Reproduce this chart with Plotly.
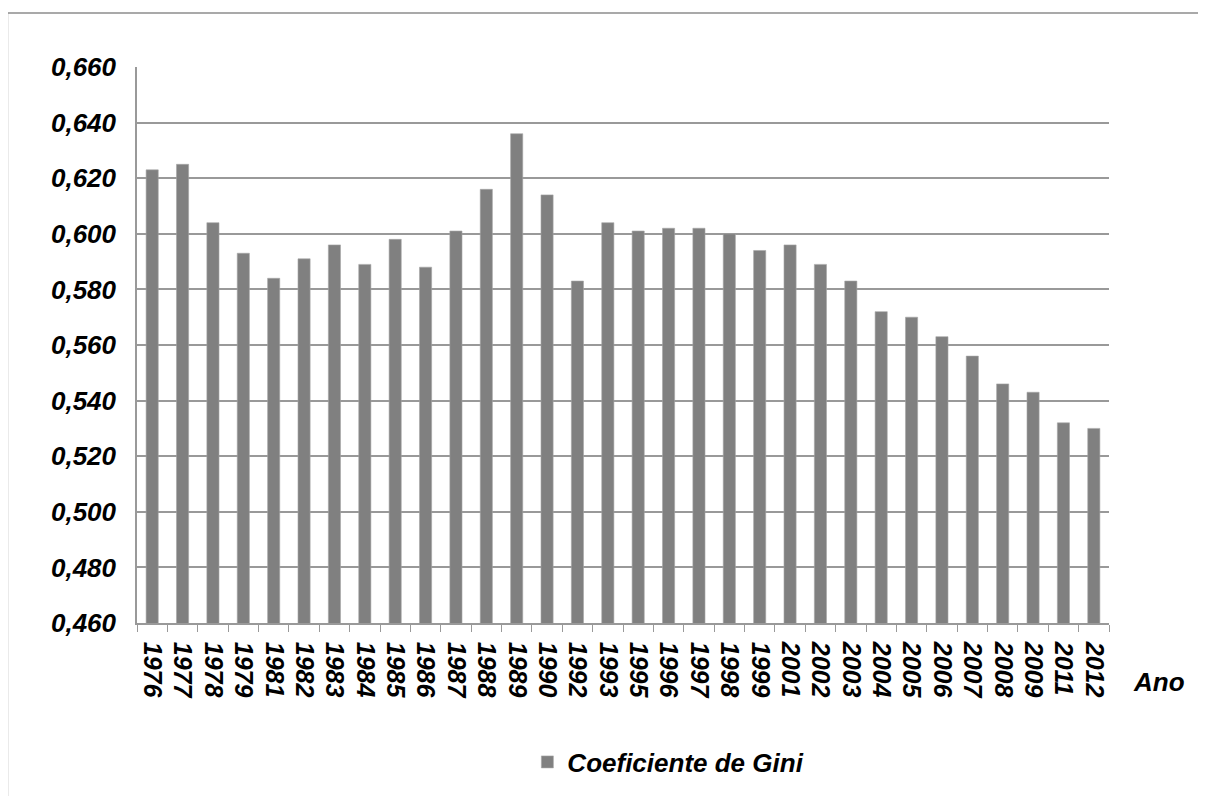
import plotly.graph_objects as go

anos = ["1976","1977","1978","1979","1981","1982","1983","1984","1985","1986","1987","1988","1989","1990","1992","1993","1995","1996","1997","1998","1999","2001","2002","2003","2004","2005","2006","2007","2008","2009","2011","2012"]
gini = [0.623,0.625,0.604,0.593,0.584,0.591,0.596,0.589,0.598,0.588,0.601,0.616,0.636,0.614,0.583,0.604,0.601,0.602,0.602,0.600,0.594,0.596,0.589,0.583,0.572,0.570,0.563,0.556,0.546,0.543,0.532,0.530]
y_ticks = [0.46,0.48,0.50,0.52,0.54,0.56,0.58,0.60,0.62,0.64,0.66]
y_labels = ["0,460","0,480","0,500","0,520","0,540","0,560","0,580","0,600","0,620","0,640","0,660"]

W, H = 1206, 796
FONT = "Liberation Sans, Arial, sans-serif"
# page body has an 8px default margin; compensate
L, T, PW, PH = 129, 59, 964, 556
R = W - L - PW - 8
B = H - T - PH

fig = go.Figure()
fig.add_trace(go.Bar(
    x=anos, y=gini, name="Coeficiente de Gini",
    marker=dict(color="#808080", line=dict(color="#a6a6a6", width=0.6)),
))

def px_x(fx):
    return (fx - L) / PW

def px_y(fy):
    return (T + PH - fy) / PH

fig.update_layout(
    width=W, height=H,
    margin=dict(l=L, r=R, t=T, b=B),
    paper_bgcolor="white", plot_bgcolor="white",
    bargap=0.6,
    showlegend=True,
    legend=dict(orientation="h", x=px_x(664 - 8), xanchor="center", y=px_y(762 - 8), yanchor="middle",
                font=dict(family=FONT, size=26, color="black", weight="bold", style="italic")),
    xaxis=dict(
        type="category", tickangle=90,
        showline=True, linecolor="#999999", linewidth=1.5,
        ticks="outside", ticklen=7, tickcolor="#999999", tickson="boundaries",
        tickfont=dict(family=FONT, size=25, color="black", weight="bold", style="italic"),
        ticklabelstandoff=12,
    ),
    yaxis=dict(
        range=[0.46, 0.66], tickvals=y_ticks, ticktext=y_labels,
        showline=True, linecolor="#999999", linewidth=1.5,
        showgrid=True, gridcolor="#999999", gridwidth=1.5,
        zeroline=False,
        tickfont=dict(family=FONT, size=26, color="black", weight="bold", style="italic"),
        ticklabelstandoff=14,
    ),
    shapes=[
        dict(type="line", xref="paper", yref="paper",
             x0=px_x(0), x1=px_x(W), y0=px_y(5), y1=px_y(5),
             line=dict(color="#8c8c8c", width=1.5)),
        dict(type="line", xref="paper", yref="paper",
             x0=px_x(0.5), x1=px_x(0.5), y0=px_y(5), y1=px_y(H + 10),
             line=dict(color="#8c8c8c", width=1.5)),
    ],
    annotations=[
        dict(text="Ano", xref="paper", yref="paper", x=px_x(1151 - 8), y=px_y(682 - 8),
             xanchor="center", yanchor="middle", showarrow=False,
             font=dict(family=FONT, size=26, color="black", weight="bold", style="italic")),
    ],
)

fig.write_html("out.html")
